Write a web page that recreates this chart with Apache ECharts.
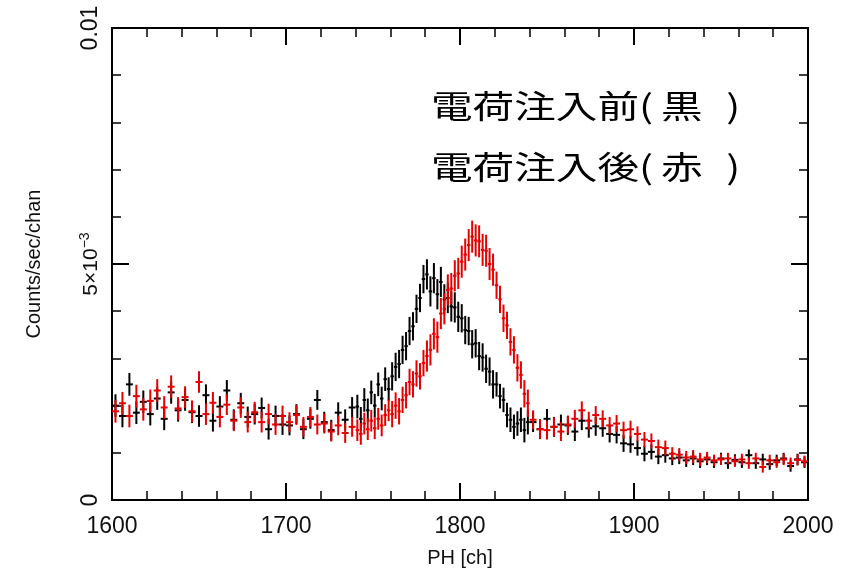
<!DOCTYPE html>
<html>
<head>
<meta charset="utf-8">
<script src="https://cdn.jsdelivr.net/npm/echarts@6/dist/echarts.min.js"></script>
<style>
html,body{margin:0;padding:0;background:#fff;}
#chart{width:848px;height:573px;}
</style>
</head>
<body>
<div id="chart"></div>
<script>
// ---- data (values in units of 1e-5 counts/sec/chan) ----
const UNIT = 1e-5;
// binning of PH channels: [start, end, width]
const binSpec = [[1600, 1740, 4], [1740, 1840, 2], [1840, 2000, 4]];
const xTicks = [1600, 1700, 1800, 1900, 2000];
const yTicks = [0, 0.005, 0.01];

// before charge injection (black)
const blackValues = [
  200,178,245,185,208, 182,215,172,228,190, 212,186,178,222,168, 198,232,170,205,176,
  182,195,150,178,160, 158,182,150,172,212, 165,148,185,170,196,
  198,172,212,190,228,200,245,215,256,235, 262,282,288,318,326,358,368,405,428,468,
  478,442,470,436,462,425,428,410,408,388, 385,360,358,330,332,305,302,278,272,245,
  245,220,212,180,170,155,162,170,148,165,
  165,150,172,155,160, 158,145,168,152,156, 152,140,138,120,118, 110,98,102,92,95,
  88,90,84,88,82, 86,80,88,78,85, 80,95,78,86,76, 84,88,72,86,80
];
// after charge injection (red)
const redValues = [
  188,205,178,220,192, 210,232,196,240,194, 218,188,250,182,206, 176,202,168,196,165,
  186,165,182,160,178, 165,180,155,176,160, 162,145,158,142,155,
  148,140,162,150,168,152,172,158,180,190, 182,200,188,212,222,250,245,268,262,290,
  305,318,352,345,395,405,445,448,475,480, 505,520,540,558,550,548,530,528,500,488,
  455,425,385,370,335,318,280,265,225,205,
  170,150,148,155,145, 160,172,190,168,180, 172,158,162,148,150, 140,128,125,112,110,
  98,96,90,92,86, 90,84,86,88,82, 86,78,88,70,84, 80,86,78,85,82
];
// 1-sigma errors per 20-channel group (1600-1620, 1620-1640, ...)
const blackErrors = [24,24,23,22,22, 21,22,25,30,32, 30,26,21,20,18, 16,14,12,12,12];
const redErrors   = [24,24,23,22,22, 21,21,23,28,33, 34,29,20,19,18, 16,14,12,12,12];

// annotation: [text before '(', inside]
const labelLines = [['電荷注入前', '黒'], ['電荷注入後', '赤']];

// ---- build bins ----
const binCenters = [], binHalf = [];
binSpec.forEach(([s, e, w]) => {
  for (let c = s; c < e; c += w) { binCenters.push(c + w / 2); binHalf.push(w / 2); }
});
function buildData(vals, errs) {
  return binCenters.map((c, i) => {
    const g = Math.min(errs.length - 1, Math.floor((c - 1600) / 20));
    return [c, vals[i] * UNIT, errs[g] * UNIT, binHalf[i]];
  });
}
function crossSeries(name, data, color) {
  return {
    name, type: 'custom', data, clip: true,
    encode: { x: 0, y: 1 },
    renderItem: function (params, api) {
      const x = api.value(0), y = api.value(1), e = api.value(2), h = api.value(3);
      const l = api.coord([x - h, y]), r = api.coord([x + h, y]);
      const t = api.coord([x, y + e]), b = api.coord([x, y - e]);
      const st = { stroke: color, lineWidth: 2 };
      return {
        type: 'group',
        children: [
          { type: 'line', shape: { x1: l[0], y1: l[1], x2: r[0], y2: r[1] }, style: st },
          { type: 'line', shape: { x1: t[0], y1: t[1], x2: b[0], y2: b[1] }, style: st }
        ]
      };
    }
  };
}

const FONT = '"Liberation Sans", Arial, Helvetica, sans-serif';
const CJK = '"Noto Sans CJK JP", sans-serif';
const tickCommon = {
  axisLine: { show: true, onZero: false, lineStyle: { color: '#000', width: 2 } },
  axisTick: { show: true, inside: true, length: 17, lineStyle: { color: '#000', width: 2 } },
  minorTick: { show: true, splitNumber: 5, length: 9, lineStyle: { color: '#000', width: 1.5 } },
  splitLine: { show: false },
  minorSplitLine: { show: false }
};

const chart = echarts.init(document.getElementById('chart'), null, { renderer: 'canvas' });
chart.setOption({
  animation: false,
  backgroundColor: '#fff',
  grid: { left: 112, right: 40, top: 28, bottom: 70, containLabel: false },
  xAxis: [
    Object.assign({
      type: 'value', min: xTicks[0], max: xTicks[xTicks.length - 1], interval: 100, position: 'bottom',
      name: 'PH [ch]', nameLocation: 'middle', nameGap: 48,
      nameTextStyle: { fontFamily: FONT, fontSize: 20, color: '#111' },
      axisLabel: { show: true, margin: 15, fontFamily: FONT, fontSize: 23, color: '#111',
        showMinLabel: true, showMaxLabel: true, formatter: v => String(v) }
    }, tickCommon),
    Object.assign({
      type: 'value', min: xTicks[0], max: xTicks[xTicks.length - 1], interval: 100, position: 'top',
      axisLabel: { show: false }
    }, tickCommon)
  ],
  yAxis: [
    Object.assign({
      type: 'value', min: yTicks[0], max: yTicks[yTicks.length - 1], interval: 0.005, position: 'left',
      name: 'Counts/sec/chan', nameLocation: 'middle', nameGap: 68,
      nameTextStyle: { fontFamily: FONT, fontSize: 20, color: '#111' },
      axisLabel: {
        show: true, rotate: 90, margin: 10, fontFamily: FONT, fontSize: 23, color: '#111',
        showMinLabel: true, showMaxLabel: true,
        formatter: function (v) {
          if (Math.abs(v) < 1e-12) return '0';
          if (Math.abs(v - 0.005) < 1e-9) return '{b|5×10}{s|−3}';
          if (Math.abs(v - 0.01) < 1e-9) return '0.01';
          return '';
        },
        rich: {
          b: { fontFamily: FONT, fontSize: 21, color: '#111', verticalAlign: 'bottom' },
          s: { fontFamily: FONT, fontSize: 14, color: '#111', verticalAlign: 'bottom', padding: [0, 0, 10, 0] }
        }
      }
    }, tickCommon),
    Object.assign({
      type: 'value', min: yTicks[0], max: yTicks[yTicks.length - 1], interval: 0.005, position: 'right',
      axisLabel: { show: false }
    }, tickCommon)
  ],
  series: [
    crossSeries('電荷注入前', buildData(blackValues, blackErrors), '#000000'),
    crossSeries('電荷注入後', buildData(redValues, redErrors), '#e60000')
  ],
  graphic: labelLines.map((ln, i) => ({
    type: 'text', x: 431, y: 106 + i * 61, scaleX: 1.3, z: 100,
    style: {
      text: '{m|' + ln[0] + '}{l|(}{m|' + ln[1] + '}{r|)}',
      align: 'left', verticalAlign: 'middle', fill: '#000',
      fontFamily: CJK, fontSize: 32,
      rich: {
        m: { fontFamily: CJK, fontSize: 32, fill: '#000', color: '#000' },
        l: { fontFamily: CJK, fontSize: 32, fill: '#000', color: '#000', width: 17, align: 'left' },
        r: { fontFamily: CJK, fontSize: 32, fill: '#000', color: '#000', width: 29, align: 'right' }
      }
    }
  }))
});
</script>
</body>
</html>
